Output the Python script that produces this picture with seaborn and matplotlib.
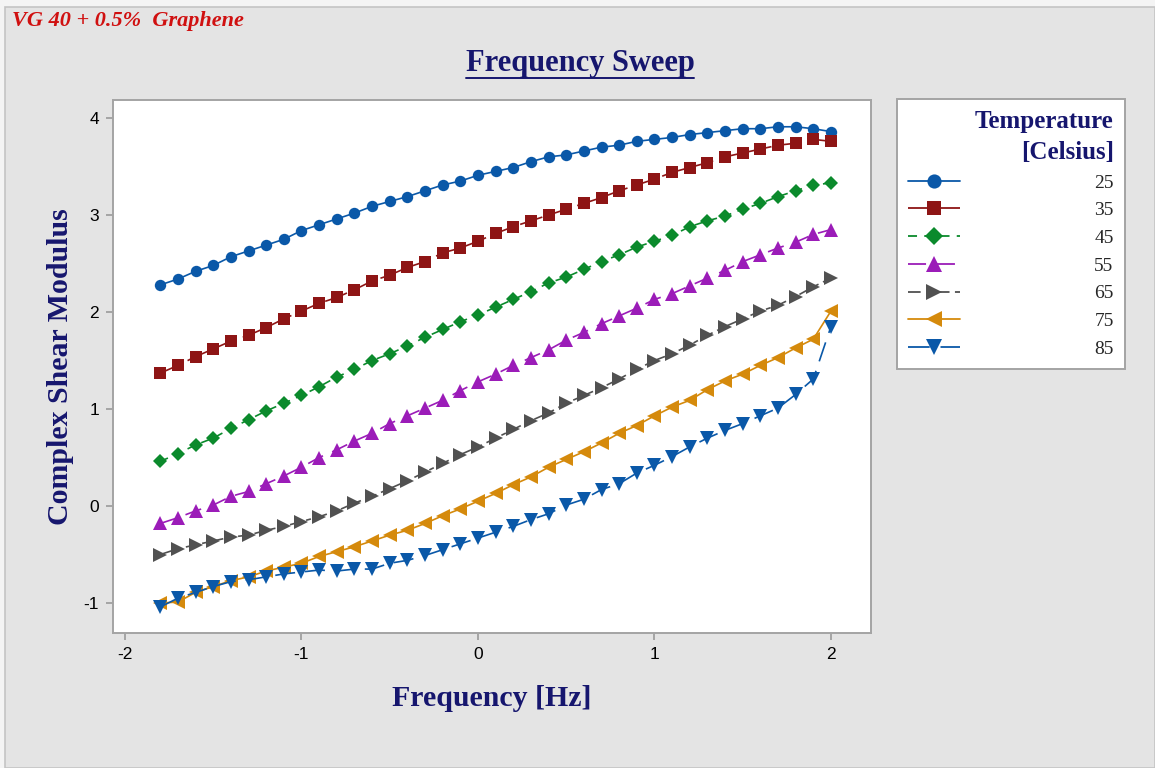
import matplotlib
matplotlib.use("Agg")
import matplotlib.pyplot as plt
from matplotlib.patches import Rectangle
from matplotlib.lines import Line2D
import pandas as pd
import seaborn as sns

# Frequency sweep data (log frequency) for each test temperature
freq = [-1.8, -1.7, -1.6, -1.5, -1.4, -1.3, -1.2, -1.1, -1.0, -0.9,
        -0.8, -0.7, -0.6, -0.5, -0.4, -0.3, -0.2, -0.1, 0.0, 0.1,
        0.2, 0.3, 0.4, 0.5, 0.6, 0.7, 0.8, 0.9, 1.0, 1.1,
        1.2, 1.3, 1.4, 1.5, 1.6, 1.7, 1.8, 1.9, 2.0]

temps = ["25", "35", "45", "55", "65", "75", "85"]

g25 = [2.28, 2.34, 2.42, 2.48, 2.57, 2.63, 2.69, 2.75, 2.84, 2.90,
       2.96, 3.02, 3.09, 3.14, 3.19, 3.25, 3.31, 3.35, 3.41, 3.45,
       3.49, 3.55, 3.60, 3.62, 3.66, 3.70, 3.72, 3.76, 3.78, 3.80,
       3.83, 3.85, 3.87, 3.89, 3.89, 3.91, 3.91, 3.89, 3.86]
g35 = [1.37, 1.45, 1.54, 1.62, 1.70, 1.76, 1.84, 1.93, 2.01, 2.09,
       2.15, 2.23, 2.32, 2.38, 2.46, 2.52, 2.61, 2.66, 2.73, 2.81,
       2.88, 2.94, 3.00, 3.06, 3.12, 3.18, 3.25, 3.31, 3.37, 3.44,
       3.49, 3.54, 3.60, 3.64, 3.68, 3.72, 3.74, 3.78, 3.76]
g45 = [0.46, 0.54, 0.63, 0.70, 0.80, 0.89, 0.98, 1.06, 1.14, 1.23,
       1.33, 1.41, 1.50, 1.57, 1.65, 1.74, 1.82, 1.90, 1.97, 2.05,
       2.13, 2.21, 2.30, 2.36, 2.44, 2.52, 2.59, 2.67, 2.73, 2.79,
       2.88, 2.94, 2.99, 3.06, 3.12, 3.19, 3.25, 3.31, 3.33]
g55 = [-0.18, -0.12, -0.05, 0.01, 0.10, 0.15, 0.23, 0.31, 0.40, 0.50,
       0.58, 0.67, 0.75, 0.85, 0.93, 1.01, 1.09, 1.19, 1.28, 1.36,
       1.45, 1.53, 1.61, 1.71, 1.79, 1.88, 1.96, 2.04, 2.13, 2.19,
       2.27, 2.35, 2.43, 2.52, 2.59, 2.66, 2.72, 2.80, 2.85]
g65 = [-0.50, -0.44, -0.40, -0.36, -0.32, -0.30, -0.25, -0.21, -0.16, -0.11,
       -0.05, 0.03, 0.10, 0.18, 0.26, 0.35, 0.44, 0.53, 0.61, 0.70,
       0.79, 0.88, 0.96, 1.06, 1.14, 1.22, 1.31, 1.41, 1.50, 1.57,
       1.66, 1.76, 1.85, 1.93, 2.01, 2.07, 2.16, 2.26, 2.35]
g75 = [-1.00, -0.99, -0.89, -0.83, -0.77, -0.73, -0.67, -0.63, -0.59, -0.52,
       -0.47, -0.42, -0.36, -0.30, -0.25, -0.18, -0.10, -0.03, 0.05, 0.13,
       0.22, 0.30, 0.40, 0.48, 0.56, 0.65, 0.75, 0.83, 0.93, 1.02,
       1.09, 1.20, 1.29, 1.36, 1.45, 1.53, 1.63, 1.72, 2.01]
g85 = [-1.04, -0.95, -0.89, -0.83, -0.78, -0.76, -0.73, -0.70, -0.68, -0.66,
       -0.67, -0.65, -0.65, -0.59, -0.56, -0.51, -0.45, -0.39, -0.33, -0.27,
       -0.21, -0.14, -0.08, 0.01, 0.07, 0.17, 0.23, 0.34, 0.42, 0.51,
       0.61, 0.70, 0.78, 0.85, 0.93, 1.01, 1.15, 1.31, 1.85]

xticks = [-2, -1, 0, 1, 2]
yticks = [-1, 0, 1, 2, 3, 4]

series = [g25, g35, g45, g55, g65, g75, g85]
df = pd.concat(
    [pd.DataFrame({"Frequency": freq, "Modulus": vals, "Temperature": t})
     for t, vals in zip(temps, series)],
    ignore_index=True,
)

palette = {"25": "#0a58a8", "35": "#8e1515", "45": "#0b8a2c", "55": "#9b1cb8",
           "65": "#515151", "75": "#d58a0c", "85": "#0a58a8"}
markers = {"25": "o", "35": "s", "45": "D", "55": "^",
           "65": ">", "75": "<", "85": "v"}
dashes = {"25": "", "35": (14, 4), "45": (5, 4), "55": (10, 6),
          "65": (7, 3, 3, 3), "75": "", "85": (12, 6)}
msizes = {"25": 8.2, "35": 8.2, "45": 7.2, "55": 9.5,
          "65": 9.5, "75": 9.5, "85": 9.5}

sns.set_theme(style="white")
plt.rcParams["font.family"] = ["Liberation Serif", "DejaVu Serif"]

NAVY = "#16166e"
W, H = 1155, 768
fig = plt.figure(figsize=(W / 100, H / 100), dpi=100, facecolor="#f4f4f4")
fig.patches.append(Rectangle((5 / W, 0), 1 - 5 / W, 1 - 7 / H,
                             transform=fig.transFigure, facecolor="#e4e4e4",
                             edgecolor="#c4c4c4", linewidth=1.2, zorder=-10))

ax = fig.add_axes([113 / W, 1 - 633 / H, (871 - 113) / W, (633 - 100) / H])
ax.set_facecolor("white")

sns.lineplot(data=df, x="Frequency", y="Modulus", hue="Temperature",
             style="Temperature", palette=palette, markers=markers,
             dashes=dashes, hue_order=temps, style_order=temps,
             linewidth=1.2, markeredgewidth=0, legend=False, ax=ax)

for line, t in zip(ax.lines, temps):
    line.set_markersize(msizes[t])

ax.set_xlim(-2.068, 2.227)
ax.set_ylim(-1.309, 4.186)
ax.set_xticks(xticks)
ax.set_yticks(yticks)
ax.set_xticklabels([str(v) for v in xticks])
ax.set_yticklabels([str(v) for v in yticks])
for lab in ax.get_xticklabels() + ax.get_yticklabels():
    lab.set_family(["Liberation Sans", "DejaVu Sans"])
    lab.set_fontsize(12.5)
    lab.set_color("black")
ax.tick_params(axis="both", direction="out", length=5, width=1.2,
               color="#9a9a9a", pad=5, bottom=True, left=True)
for sp in ax.spines.values():
    sp.set_color("#a4a4a4")
    sp.set_linewidth(1.4)

ax.set_xlabel("Frequency [Hz]", fontsize=21.5, fontweight="bold", color=NAVY,
              labelpad=17)
ax.set_ylabel("Complex Shear Modulus", fontsize=21.5, fontweight="bold",
              color=NAVY, labelpad=7)

# Chart title with underline
title = fig.text(580 / W, 1 - 64 / H, "Frequency Sweep", ha="center",
                 va="center", fontsize=22, fontweight="bold", color=NAVY)
fig.text(12 / W, 1 - 21 / H, "VG 40 + 0.5%  Graphene", ha="left", va="center",
         fontsize=16, fontweight="bold", fontstyle="italic", color="#d01010")

fig.canvas.draw()
bb = title.get_window_extent(fig.canvas.get_renderer())
uy = (bb.y0 + 1) / H
fig.add_artist(Line2D([bb.x0 / W, bb.x1 / W], [uy, uy],
                      transform=fig.transFigure, color=NAVY, linewidth=1.4))

# Legend
handles = [Line2D([], [], color=palette[t], marker=markers[t],
                  markersize=msizes[t] + 2, markeredgewidth=0,
                  linewidth=1.3,
                  linestyle="-" if dashes[t] == "" else (0, dashes[t]))
           for t in temps]
leg = fig.legend(handles, temps, loc="upper left",
                 bbox_to_anchor=(897 / W, 1 - 99 / H),
                 bbox_transform=fig.transFigure, borderaxespad=0,
                 title="Temperature\n[Celsius]", alignment="right",
                 frameon=True, fancybox=False, fontsize=14,
                 handlelength=2.7, handletextpad=6.9, borderpad=0.55,
                 labelspacing=0.52, numpoints=1)
leg.get_frame().set_edgecolor("#a4a4a4")
leg.get_frame().set_linewidth(1.4)
leg.get_frame().set_facecolor("white")
leg.get_frame().set_alpha(1)
ttl = leg.get_title()
ttl.set_fontsize(18)
ttl.set_fontweight("bold")
ttl.set_color(NAVY)
ttl.set_multialignment("right")
ttl.set_linespacing(1.45)

fig.savefig("out.png", dpi=100, facecolor=fig.get_facecolor())
